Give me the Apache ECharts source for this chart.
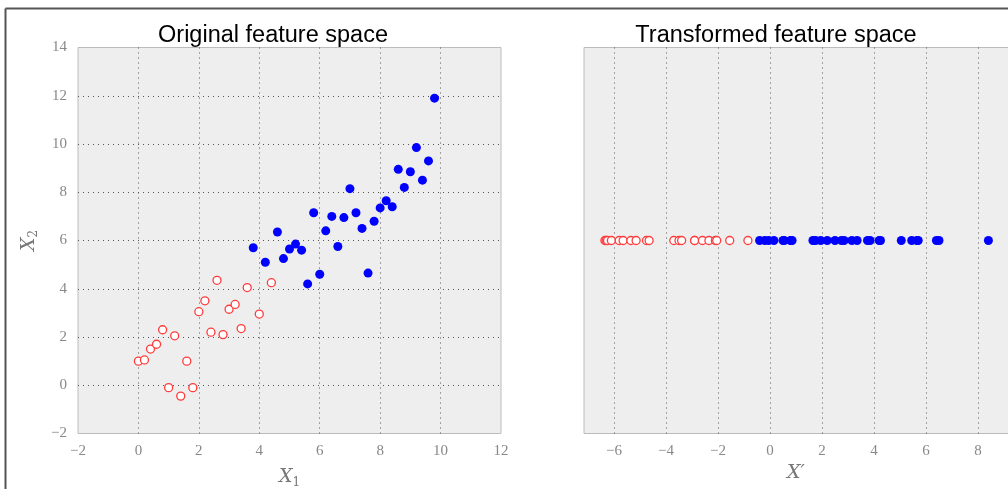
<!DOCTYPE html>
<html>
<head>
<meta charset="utf-8">
<script src="https://cdn.jsdelivr.net/npm/echarts@6/dist/echarts.min.js"></script>
<style>
html,body{margin:0;padding:0;background:#fff;}
#c{width:1008px;height:489px;}
</style>
</head>
<body>
<div id="c"></div>
<script>
// ---- data ----
const redX = [0.0,0.2,0.4,0.6,0.8,1.2,1.6,1.0,1.4,1.8,2.0,2.2,2.6,2.4,2.8,3.0,3.2,3.4,3.6,4.0,4.4];
const redY = [1.0,1.05,1.5,1.7,2.3,2.05,1.0,-0.1,-0.45,-0.1,3.05,3.5,4.35,2.2,2.1,3.15,3.35,2.35,4.05,2.95,4.25];
const blueX = [9.8,9.2,9.6,8.6,9.0,9.4,8.8,7.0,8.2,8.0,8.4,5.8,6.4,6.8,7.2,7.8,7.4,6.2,4.6,3.8,5.2,5.0,5.4,6.6,4.8,4.2,6.0,7.6,5.6];
const blueY = [11.9,9.85,9.3,8.95,8.85,8.5,8.2,8.15,7.65,7.35,7.4,7.15,7.0,6.95,7.15,6.8,6.5,6.4,6.35,5.7,5.85,5.65,5.6,5.75,5.25,5.1,4.6,4.65,4.2];
const redT = [-6.35,-6.3,-6.25,-6.1,-5.8,-5.65,-5.35,-5.15,-4.75,-4.65,-3.7,-3.5,-3.4,-2.9,-2.9,-2.6,-2.35,-2.1,-2.05,-1.55,-0.85];
const blueT = [-0.4,-0.2,-0.05,0.15,0.5,0.55,0.8,0.8,0.85,1.65,1.75,1.95,2.2,2.5,2.75,2.85,3.15,3.35,3.75,3.85,4.2,4.25,5.05,5.45,5.65,5.7,6.4,6.5,8.4];
const rowY = 0; // transformed points drawn on a single row
const titles = ['Original feature space', 'Transformed feature space'];

const chart = echarts.init(document.getElementById('c'), null, {renderer: 'canvas'});

const tickFont = {fontFamily: 'Liberation Serif', fontSize: 15, color: '#888'};
const fmt = v => String(v).replace('-', '\u2212');
const dotted = {show: true, showMinLine: false, showMaxLine: false,
  lineStyle: {color: '#555', width: 1, type: [1, 4]}};
const nameRich = {
  i: {fontFamily: 'DejaVu Serif', fontStyle: 'italic', fontSize: 19, color: '#777'},
  s: {fontFamily: 'DejaVu Serif', fontSize: 12, color: '#777', padding: [10, 0, 0, 0]}
};
const redStyle = {color: '#ffffff', borderColor: '#ff3b3b', borderWidth: 1.3, opacity: 1};
const blueStyle = {color: '#0000ff', borderWidth: 0, opacity: 1};
const titleStyle = {fontFamily: 'Liberation Sans', fontSize: 23.5, fontWeight: 'normal', color: '#000'};

const option = {
  animation: false,
  backgroundColor: '#ffffff',
  graphic: [
    {type: 'line', shape: {x1: 5.5, y1: 8.5, x2: 5.5, y2: 489}, style: {stroke: '#555', lineWidth: 2}},
    {type: 'line', shape: {x1: 5.5, y1: 8.5, x2: 1008, y2: 8.5}, style: {stroke: '#555', lineWidth: 2}},
    {type: 'rect', z: -1, shape: {x: 584, y: 47.5, width: 430, height: 386},
      style: {fill: '#eeeeee', stroke: '#bcbcbc', lineWidth: 1}}
  ],
  title: [
    {text: titles[0], left: 268, top: 19, textAlign: 'center', textStyle: titleStyle},
    {text: titles[1], left: 771, top: 19, textAlign: 'center', textStyle: titleStyle}
  ],
  grid: [
    {left: 78, top: 47.5, width: 423, height: 386, show: true, outerBoundsMode: 'none',
      backgroundColor: '#eeeeee', borderColor: '#bcbcbc', borderWidth: 1},
    {left: 562, top: 47.5, width: 468, height: 386, show: false, outerBoundsMode: 'none'}
  ],
  xAxis: [
    {gridIndex: 0, type: 'value', min: -2, max: 12, interval: 2,
      axisLine: {show: false}, axisTick: {show: false},
      axisLabel: Object.assign({margin: 10, formatter: fmt}, tickFont),
      splitLine: dotted,
      name: '{i|X}{s|1}', nameLocation: 'middle', nameGap: 33,
      nameTextStyle: {rich: nameRich}},
    {gridIndex: 1, type: 'value', min: -8, max: 10, interval: 2,
      axisLine: {show: false}, axisTick: {show: false},
      axisLabel: Object.assign({margin: 10, formatter: fmt, showMinLabel: false, showMaxLabel: false}, tickFont),
      splitLine: dotted,
      name: '{i|X\u2032}', nameLocation: 'middle', nameGap: 26,
      nameTextStyle: {rich: nameRich}}
  ],
  yAxis: [
    {gridIndex: 0, type: 'value', min: -2, max: 14, interval: 2,
      axisLine: {show: false}, axisTick: {show: false},
      axisLabel: Object.assign({margin: 11, formatter: fmt}, tickFont),
      splitLine: dotted,
      name: '{i|X}{s|2}', nameLocation: 'middle', nameGap: 38, nameRotate: 90,
      nameTextStyle: {rich: nameRich}},
    {gridIndex: 1, type: 'value', min: -1, max: 1,
      axisLine: {show: false}, axisTick: {show: false}, axisLabel: {show: false},
      splitLine: {show: false}}
  ],
  series: [
    {type: 'scatter', xAxisIndex: 0, yAxisIndex: 0, symbol: 'circle', symbolSize: 8,
      itemStyle: redStyle, data: redX.map((x, i) => [x, redY[i]])},
    {type: 'scatter', xAxisIndex: 0, yAxisIndex: 0, symbol: 'circle', symbolSize: 9,
      itemStyle: blueStyle, data: blueX.map((x, i) => [x, blueY[i]])},
    {type: 'scatter', xAxisIndex: 1, yAxisIndex: 1, symbol: 'circle', symbolSize: 8,
      itemStyle: redStyle, data: redT.map(v => [v, rowY])},
    {type: 'scatter', xAxisIndex: 1, yAxisIndex: 1, symbol: 'circle', symbolSize: 9,
      itemStyle: blueStyle, data: blueT.map(v => [v, rowY])}
  ]
};
chart.setOption(option);
</script>
</body>
</html>
